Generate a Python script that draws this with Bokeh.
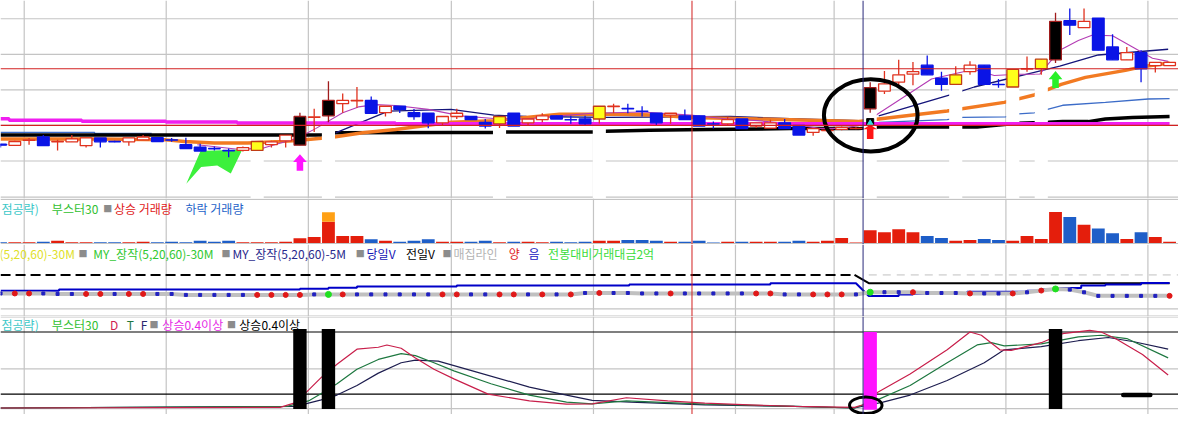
import numpy as np
from bokeh.plotting import figure
from bokeh.layouts import column
from bokeh.models import Range1d, Span, Label
from bokeh.embed import file_html
from bokeh.resources import INLINE

# ======================= DATA =======================
# candles (arbitrary price units), one per bar index 0..82
opens = [605,593,645,680,630,630,590,670,633,630, 650,673,650,600,573,560,540,540,540,600,
         640,595,885,900,1027,1057,1060,933,1000,933, 927,827,893,893,833,817,927,827,860,900,
         860,867,867,997,977,950,927,907,900,900, 817,817,867,793,773,827,800,727,747,760,
         767,973,1157,1250,1333,1427,1293,1227,1360,1427, 1227,1200,1387,1390,1483,1890,1817,1917,1617,1483,
         1557,1423,1423]
highs = [610,640,670,700,650,700,670,670,640,670, 700,673,670,673,610,580,560,580,633,640,
         700,933,973,1260,1133,1200,1100,1000,1000,970, 927,893,973,893,867,893,927,867,927,900,
         900,900,1000,1027,1027,1000,927,927,967,900, 840,893,867,827,860,867,800,767,770,790,
         780,1250,1367,1483,1460,1527,1360,1417,1467,1427, 1283,1383,1517,1490,1973,2017,2017,1917,1750,1617,
         1583,1457,1457]
lows = [570,590,600,590,540,630,570,570,625,590, 650,633,630,560,533,540,470,530,540,570,
        570,595,733,833,933,983,927,893,930,860, 770,793,867,860,767,773,793,800,833,867,
        817,793,820,927,927,893,793,817,860,793, 767,793,767,773,773,767,700,693,730,750,
        760,933,1127,1200,1217,1327,1160,1227,1327,1227, 1193,1200,1360,1327,1450,1740,1817,1583,1483,1483,
        1250,1350,1423]
closes = [595,633,650,590,633,660,670,630,630,670, 680,633,647,560,533,557,537,570,633,630,
          700,893,890,1060,1060,1060,927,1000,967,893, 827,893,927,860,793,893,793,867,900,867,
          857,817,1000,1000,974,947,827,927,860,793, 814,860,767,827,827,767,700,767,750,780,
          770,1193,1233,1327,1360,1327,1227,1327,1427,1227, 1224,1383,1390,1490,1883,1843,1883,1583,1483,1557,
          1390,1457,1457]
black_sig = [21, 23, 61, 74]
yellow_sig = [18, 35, 42, 67, 71, 73]
gap_sig = [18, 23, 35, 42, 61, 67, 71, 73]

# volume (shares)
volume = [800,800,800,1300,2300,800,800,800,800,800,
          1300,800,1300,800,2300,1300,2300,800,800,800,
          1300,5000,6300,32200,7300,7300,4000,2300,1300,2300,
          4000,1300,1300,1300,2300,800,1300,1300,800,1300,
          800,1300,2300,2300,3300,3300,2300,1300,1300,2300,
          500,1300,1300,1300,1300,1300,2300,1300,2300,5300,
          500,13300,11300,14300,11300,7300,5300,2300,3300,4300,
          3300,2300,7300,4300,32300,27300,19000,15300,10300,4300,
          11300,6300,1300]
vol_over_idx = [23]
vol_over = [9900]

# price-panel overlays (bar index, price)
mag_x = [0, 0.6, 5.7, 11.6, 16.6, 27.7, 82]
mag_y = [870, 855, 845, 835, 825, 817, 817]
blk_x = [0, 22.6, 23.5, 31.6, 34.5, 35.5, 41.5, 42.4, 45.5, 49.5, 55.4, 60.2, 61.6, 68.5, 71.4, 73.5, 74.5, 76.3, 77.5, 79.4, 82]
blk_y = [700, 700, 723, 727, 727, 733, 733, 740, 750, 757, 767, 767, 783, 783, 823, 833, 840, 840, 867, 883, 893]
lb_l_x = [0, 6.6, 6.6, 10.6]
lb_l_y = [727, 727, 717, 717]
lb_r_x = [61.6, 66.4, 67.5, 70.5, 71.4, 72.5, 74.5, 77.5, 80.5, 82]
lb_r_y = [833, 860, 883, 890, 920, 930, 1010, 1040, 1075, 1080]
nv_l_x = [23.5, 27.2, 31.6, 34.6, 36.9, 42.7, 51.2, 55.4, 60.2]
nv_l_y = [723, 950, 967, 907, 893, 883, 893, 870, 850]
nv_r_x = [61.6, 66.6, 68.3, 71.5, 74.3, 77, 81.9]
nv_r_y = [900, 1117, 1200, 1317, 1417, 1533, 1593]
orange_x = [0, 6.9, 11.6, 12.9, 15, 17.3, 19.6, 20.8, 22.5, 23.5, 25.4, 27.7, 31.6, 34.6, 39.2, 43.8, 46.2, 48.4,
            53.1, 55.4, 60.2, 61.6, 66.4, 70.4, 72.5, 74.4, 76.1, 78.9, 80.3, 82]
orange_y = [660, 660, 650, 633, 617, 617, 633, 643, 667, 683, 723, 757, 833, 850, 917, 917, 907, 883,
            867, 860, 840, 867, 950, 1040, 1117, 1227, 1300, 1373, 1417, 1450]
purple_x = [13.8, 16.8, 18.5, 20.8, 22.1, 24, 25.1, 26.3, 27.7, 30, 32.3, 34.6, 36.9, 39.2, 41.5, 45, 48.4, 50.7,
            53.1, 55.4, 57.4, 59, 60.2, 61.5, 65.3, 67.3, 68.3, 69.7, 71.5, 72.9, 74.3, 75.6, 76.6, 78, 79.4, 80.8, 81.9]
purple_y = [600, 550, 567, 667, 767, 933, 993, 1017, 1007, 967, 900, 873, 867, 900, 927, 940, 907, 873,
            850, 817, 770, 770, 800, 917, 1283, 1350, 1383, 1320, 1333, 1333, 1583, 1683, 1740, 1733, 1617, 1500, 1467]
flag_x = [13.03, 14.03, 16.96, 16.15, 15.2, 14.07]
flag_y = [193, 533, 550, 300, 383, 367]
arrow_idx = [21, 61, 74]
arrow_tip = [500, 807, 1367]
arrow_neck = [420, 760, 1280]
arrow_tail = [330, 660, 1190]
arrow_col = ["#ff14ff", "#ff1414", "#28f028"]
sq_idx, sq_val = [61], [835]
circle_idx, circle_val = [61.04], [905]
hline_price = [1390, 800]
vline_red, vline_navy = 48.5, 60.5
grid_idx = [1.66, 11.62, 21.59, 31.62, 41.59, 51.55, 58.47, 70.52, 80.48]
price_grid = [1910, 1540, 1170, 800, 430, 55]

# panel 3 (volume-energy lines)
prev_x = [0, 59.9, 60.9, 82]
prev_y = [443, 443, 357, 357]
today_x = [0, 4.1, 4.1, 21, 21, 23, 23, 25, 25, 32, 32, 44.1, 44.1, 54, 54, 60, 60.9, 63, 63, 64,
           64, 67.8, 67.8, 72, 72, 73, 73, 74, 74, 75.8, 75.8, 77.5, 77.5, 80, 80, 82]
today_y = [277, 277, 290, 290, 300, 300, 310, 310, 323, 323, 333, 333, 343, 343, 357, 357, 223, 223, 240, 240,
           247, 247, 267, 267, 277, 277, 297, 297, 307, 307, 333, 333, 343, 343, 360, 360]
accum = [250,250,250,250,245,245,245,245,245,245, 245,245,245,235,235,235,235,235,235,235,
         235,235,240,240,240,240,240,240,240,240, 240,240,240,240,240,240,240,240,240,240,
         240,255,255,255,255,250,250,250,250,250, 250,250,250,250,250,240,240,240,240,240,
         240,263,263,263,263,255,255,255,250,250, 250,250,262,280,297,290,262,225,225,225,
         225,225,225]
dot_up = [1,2,6,7,9,10,18,19,20,21,24,31,32,35,36,38,40,42,47,53,54,57,58,59,64,68,71,73,82]
dot_sig = [23, 61, 74]

# panel 4 oscillator (D, T, F)
d_x = [0, 19.6, 20.7, 21.6, 22.5, 23.6, 25, 26.5, 27.1, 28.1, 29.1, 30.4, 31.8, 34.2, 37.1, 39.7, 41.5, 43.9, 46.8, 49.4,
       52.5, 55.7, 59.9, 60.5, 61.5, 63.8, 66.4, 68, 68.8, 70.1, 70.9, 73, 74.5, 76.4, 77.2, 78.2, 80.1, 81.9]
d_y = [6.6, 7.2, 11.8, 23.8, 36.2, 48.8, 63.4, 65.3, 67.5, 64.3, 55, 44.1, 34.7, 20, 13.4, 10.3, 10.5, 16.5, 13.4, 11.3,
       9.7, 8.1, 7.2, 9.7, 21.6, 39.4, 62.8, 80, 76.9, 62.8, 62.2, 69.7, 78.4, 81.6, 80, 73.7, 58.2, 38.5]
t_x = [0, 20.1, 21.6, 22.5, 23.6, 25, 26.5, 28.1, 29.1, 30.4, 31.8, 34.4, 37.1, 39.7, 41.5, 43.9, 49.4, 55.7, 59.9, 61.5,
       63.8, 66.4, 68.5, 69.5, 70.4, 73, 75.6, 77.2, 79, 81.9]
t_y = [6.6, 8.1, 13.4, 20.7, 30, 44.1, 53.5, 59.1, 57.2, 50.3, 42.5, 30, 19.1, 12.2, 10.6, 13.4, 10.3, 8.1, 6.6, 14.4,
       28.4, 50.3, 67.5, 69.7, 66.6, 68.5, 75.3, 76.9, 73.7, 55]
f_x = [0, 20.7, 22.5, 23.6, 25, 26.5, 28.1, 29.1, 30.7, 33.1, 37.1, 39.7, 41.5, 44.2, 49.4, 55.7, 59.9, 61.9, 63.8, 66.4,
       69, 70.4, 73, 75.6, 77.7, 79.5, 81.9]
f_y = [6.6, 8.1, 14.4, 19.1, 28.4, 40.3, 50.3, 52.8, 51.9, 42.5, 26.8, 19.1, 13.9, 12.2, 9.7, 8.1, 6.6, 12.2, 19.1, 33.1,
       50.3, 62.8, 65.9, 71.6, 74.7, 70.6, 63.4]
boost_idx = [21, 23, 61, 74]
boost_top = [83, 83, 80, 83]
boost_bot = [5.7, 5.7, 5, 5.7]
boost_col = ["black", "black", "#ff14ff", "black"]
osc_levels = [80, 20]
osc_grid = [94.5, 44.4, 5.9]
osc_circle_idx, osc_circle_val = [60.69], [9.2]
osc_bar_x, osc_bar_val = [78.75, 80.65], [19.1, 19.1]

legend2 = [("점공략)", "#3cc8c8", 1), ("부스터30", "#30c030", 52), ("■", "#8c8c8c", 104),
           ("상승 거래량", "#e02020", 115), ("하락 거래량", "#2462c8", 187.5)]
legend3 = [("(5,20,60)-30M", "#e0e028", -1), ("■", "#8c8c8c", 79), ("MY_장작(5,20,60)-30M", "#30c830", 94),
           ("■", "#8c8c8c", 224), ("MY_장작(5,20,60)-5M", "#28288c", 235), ("■", "#8c8c8c", 360),
           ("당일V", "#1414b4", 371), ("전일V", "black", 411), ("■", "#8c8c8c", 448),
           ("매집라인", "#b4b4b4", 459), ("양", "#e02020", 515), ("음", "#2020c0", 535),
           ("전봉대비거래대금2억", "#3cdc3c", 555)]
legend4 = [("점공략)", "#3cc8c8", 1), ("부스터30", "#30c030", 52), ("D", "#d01e50", 111),
           ("T", "#1e7840", 128), ("F", "#28286e", 142), ("■", "#8c8c8c", 151),
           ("상승0.4이상", "#e628e6", 164), ("■", "#8c8c8c", 229.5), ("상승0.4이상", "black", 242)]

# ======================= LAYOUT =======================
W = 1178
H1, H2, H3, H4 = 198, 46, 72, 98
STEP = 14.45  # reference px per bar
xr = Range1d(-0.0035, 82.626)
GRID = "#c4c4c4"
RED = "#e0321e"
BLUE = "#0a14e6"
FONT = "Noto Sans CJK KR"


def make_fig(h, y0, y1):
    p = figure(width=W, height=h, x_range=xr, y_range=Range1d(y0, y1),
               output_backend="svg", toolbar_location=None,
               x_axis_location=None, y_axis_location=None,
               min_border=0, outline_line_color=None,
               background_fill_color="white", border_fill_color="white")
    p.xgrid.visible = False
    p.ygrid.visible = False
    for g in grid_idx:
        p.add_layout(Span(location=g, dimension="height", line_color=GRID, line_width=1.2, level="underlay"))
    return p


def vlines(p):
    p.add_layout(Span(location=vline_red, dimension="height", line_color="#d22020", line_width=1))
    p.add_layout(Span(location=vline_navy, dimension="height", line_color="#2a2a7a", line_width=1))


def legend(p, items, yval):
    for txt, col, rx in items:
        size = "9px" if txt == "■" else "12px"
        p.add_layout(Label(x=rx / STEP, y=yval, text=txt, text_color=col, text_font=FONT,
                           text_font_size=size, text_baseline="middle", text_align="left"))


idx = np.arange(len(opens))
o = np.array(opens, float); c = np.array(closes, float)
h = np.array(highs, float); l = np.array(lows, float)
up = c >= o

# ---------- panel 1: price ----------
p1 = make_fig(H1, 40, 2100)
for g in price_grid:
    p1.add_layout(Span(location=g, dimension="width", line_color=GRID, line_width=1.2, level="underlay"))
p1.multi_line([lb_l_x, lb_r_x], [lb_l_y, lb_r_y], line_color="#3c6cc8", line_width=1.3)
p1.line(blk_x, blk_y, line_color="black", line_width=3.5)
p1.multi_line([nv_l_x, nv_r_x], [nv_l_y, nv_r_y], line_color="#14147a", line_width=1.3)
p1.line(orange_x, orange_y, line_color="#f27a22", line_width=3.5)
p1.line(purple_x, purple_y, line_color="#b43cb4", line_width=1.1)
gi = np.array(gap_sig)
p1.quad(left=gi - 0.46, right=gi + 0.46, top=l[gi], bottom=40, fill_color="white", line_color=None)
p1.step(mag_x, mag_y, mode="after", line_color="#f01ef0", line_width=3.5)
p1.patch(flag_x, flag_y, fill_color="#3cf03c", line_color=None)

fill = ["white" if u else BLUE for u in up]
edge = [RED if u else BLUE for u in up]
wick = [RED if u else BLUE for u in up]
for i in black_sig:
    fill[i] = "black"; edge[i] = "#a01c1c"; wick[i] = "#a01c1c"
for i in yellow_sig:
    fill[i] = "#ffff1a"; edge[i] = "#c03c14"; wick[i] = RED
p1.segment(idx, h, idx, l, line_color=wick, line_width=1.3)
p1.quad(left=idx - 0.41, right=idx + 0.41, top=np.maximum(o, c), bottom=np.minimum(o, c),
        fill_color=fill, line_color=edge, line_width=1.3)

hw, sw = 0.48, 0.23
axs, ays = [], []
for i, tp, nk, tl in zip(arrow_idx, arrow_tip, arrow_neck, arrow_tail):
    axs.append([i, i + hw, i + sw, i + sw, i - sw, i - sw, i - hw])
    ays.append([tp, nk, nk, tl, tl, nk, nk])
p1.patches(axs, ays, fill_color=arrow_col, line_color=None)
p1.scatter(sq_idx, sq_val, marker="square", size=7, color="black")
p1.scatter(sq_idx, [v - 13 for v in sq_val], marker="triangle", size=6, color="#30e0e0")
p1.ellipse(circle_idx, circle_val, width=6.57, height=750, fill_color=None, line_color="black", line_width=4)
for hp in hline_price:
    p1.add_layout(Span(location=hp, dimension="width", line_color="#d22020", line_width=1.2))
vlines(p1)

# ---------- panel 2: volume ----------
p2 = make_fig(H2, -1500, 46500)
for g in [45500, -500]:
    p2.add_layout(Span(location=g, dimension="width", line_color=GRID, line_width=1.2, level="underlay"))
v = np.array(volume, float)
vbase = v.copy()
for i, ov in zip(vol_over_idx, vol_over):
    vbase[i] = v[i] - ov
vcol = ["#e41e0c" if u else "#1e5ec8" for u in up]
p2.quad(left=idx - 0.45, right=idx + 0.45, bottom=0, top=vbase, fill_color=vcol, line_color=None)
oi = np.array(vol_over_idx)
p2.quad(left=oi - 0.45, right=oi + 0.45, bottom=vbase[oi], top=v[oi], fill_color="#ffa014", line_color=None)
vlines(p2)
legend(p2, legend2, 36500)

# ---------- panel 3: lines ----------
p3 = make_fig(H3, 10, 760)
for g in [90, 15]:
    p3.add_layout(Span(location=g, dimension="width", line_color=GRID, line_width=1.2, level="underlay"))
p3.line([prev_x[2], xr.end], [prev_y[0], prev_y[0]], line_color="#c0c0c0", line_width=1, line_dash="8 6")
p3.line(prev_x[:2], prev_y[:2], line_color="black", line_width=2, line_dash="10 5")
p3.line(prev_x[1:], prev_y[1:], line_color="black", line_width=2)
p3.line(today_x, today_y, line_color="#0000c8", line_width=2)
p3.line(idx, accum, line_color="#c0c0c0", line_width=4)
acc = np.array(accum, float)
others = [i for i in idx if i not in dot_up and i not in dot_sig]
p3.scatter(others, acc[others], marker="square", size=3, color="#2020c0")
p3.scatter(dot_up, acc[dot_up], marker="circle", size=5, color="#e01818")
p3.scatter(dot_sig, acc[dot_sig], marker="circle", size=6, color="#20e020")
vlines(p3)
legend(p3, legend3, 667)

# ---------- panel 4: oscillator ----------
p4 = make_fig(H4, 0.31, 95)
for g in osc_grid:
    p4.add_layout(Span(location=g, dimension="width", line_color=GRID, line_width=1.2, level="underlay"))
for g in osc_levels:
    p4.add_layout(Span(location=g, dimension="width", line_color="black", line_width=1.2, level="underlay"))
p4.line(f_x, f_y, line_color="#1e1e50", line_width=1.2)
p4.line(t_x, t_y, line_color="#1e7840", line_width=1.2)
p4.line(d_x, d_y, line_color="#c81e4a", line_width=1.2)
bi = np.array(boost_idx)
p4.quad(left=bi - 0.47, right=bi + 0.47, top=boost_top, bottom=boost_bot, fill_color=boost_col, line_color=None)
p4.ellipse(osc_circle_idx, osc_circle_val, width=2.28, height=15.9, fill_color=None, line_color="black", line_width=3)
p4.line(osc_bar_x, osc_bar_val, line_color="black", line_width=4.5, line_cap="round")
vlines(p4)
legend(p4, legend4, 87.5)

layout = column(p1, p2, p3, p4, spacing=0)
open("out.html", "w").write(file_html(layout, INLINE))
